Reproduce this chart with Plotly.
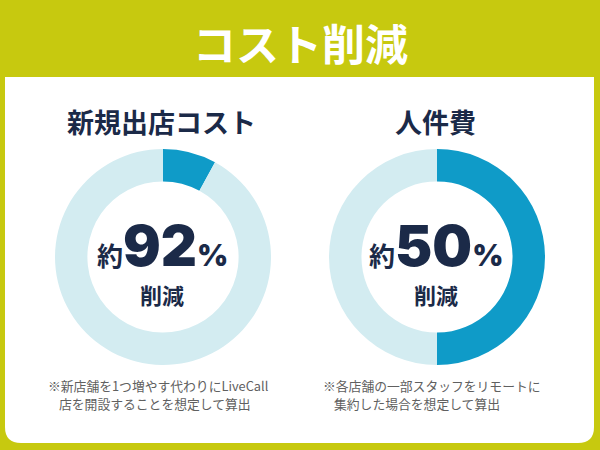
import plotly.graph_objects as go

W, H = 600, 450

# ---- data ----
titles = ["新規出店コスト", "人件費"]
reduction_pct = [92, 50]
remaining_share = [8, 50]      # highlighted slice (dark blue)
other_share = [92, 50]         # rest of ring (light blue)
notes = [
    ["※新店舗を1つ増やす代わりにLiveCall", "店を開設することを想定して算出"],
    ["※各店舗の一部スタッフをリモートに", "集約した場合を想定して算出"],
]
main_title = "コスト削減"

# ---- styles ----
BG = "#c7c90f"
DARK = "#0f9bc8"
LIGHT = "#d3ecf1"
NAVY = "#1b2a48"
GRAY = "#606060"
CJK = "Noto Sans CJK JP"
NUM = "Inter"

centers = [(163, 257), (437, 257)]
R = 108


def px(x):
    return x / W


def py(y):
    return 1 - y / H


fig = go.Figure()

for i, (cx, cy) in enumerate(centers):
    fig.add_trace(go.Pie(
        values=[remaining_share[i], other_share[i]],
        labels=["a", "b"],
        hole=0.70,
        sort=False,
        direction="clockwise",
        rotation=0,
        marker=dict(colors=[DARK, LIGHT], line=dict(width=0)),
        textinfo="none",
        hoverinfo="skip",
        showlegend=False,
        domain=dict(x=[px(cx - R), px(cx + R)], y=[py(cy + R), py(cy - R)]),
    ))

# panel with rounded bottom corners
x0, x1, y0, y1, r = 5, 594, 77, 443, 16
path = (
    f"M {px(x0)},{py(y0)} L {px(x1)},{py(y0)} L {px(x1)},{py(y1 - r)} "
    f"Q {px(x1)},{py(y1)} {px(x1 - r)},{py(y1)} L {px(x0 + r)},{py(y1)} "
    f"Q {px(x0)},{py(y1)} {px(x0)},{py(y1 - r)} Z"
)
shapes = [dict(type="path", path=path, xref="paper", yref="paper",
               fillcolor="white", line=dict(width=0), layer="below")]

annotations = [
    dict(text=f"<b>{main_title}</b>", x=0.5, y=py(42), xref="paper", yref="paper",
         xanchor="center", yanchor="middle", showarrow=False,
         font=dict(family=CJK, size=43, color="white")),
]

for i, (cx, cy) in enumerate(centers):
    annotations.append(dict(
        text=f"<b>{titles[i]}</b>", x=px(cx - 2), y=py(122), xref="paper", yref="paper",
        xanchor="center", yanchor="middle", showarrow=False,
        font=dict(family=CJK, size=27, color=NAVY)))
    big = (f"<span style='font-family:{CJK};font-size:26px;font-weight:700'>約</span>"
           f"<span style='font-family:{NUM};font-size:56px;font-weight:900'>{reduction_pct[i]}</span>"
           f"<span style='font-family:{NUM};font-size:30px;font-weight:900'>%</span>")
    annotations.append(dict(
        text=big, x=px(cx - 1), y=py(246), xref="paper", yref="paper",
        xanchor="center", yanchor="middle", showarrow=False,
        font=dict(family=NUM, size=56, color=NAVY)))
    annotations.append(dict(
        text="<b>削減</b>", x=px(cx - 1), y=py(294), xref="paper", yref="paper",
        xanchor="center", yanchor="middle", showarrow=False,
        font=dict(family=CJK, size=22, color=NAVY)))

note_x = [46, 321]
for i in range(2):
    annotations.append(dict(
        text=notes[i][0], x=px(note_x[i]), y=py(385), xref="paper", yref="paper",
        xanchor="left", yanchor="middle", showarrow=False,
        font=dict(family=CJK, size=12.8, color=GRAY)))
    annotations.append(dict(
        text=notes[i][1], x=px(note_x[i] + 11), y=py(403), xref="paper", yref="paper",
        xanchor="left", yanchor="middle", showarrow=False,
        font=dict(family=CJK, size=12.8, color=GRAY)))

fig.update_layout(
    width=W, height=H,
    margin=dict(l=0, r=0, t=0, b=0),
    paper_bgcolor=BG, plot_bgcolor=BG,
    shapes=shapes, annotations=annotations,
    showlegend=False,
)

fig.write_html("out.html", config={"displayModeBar": False})
